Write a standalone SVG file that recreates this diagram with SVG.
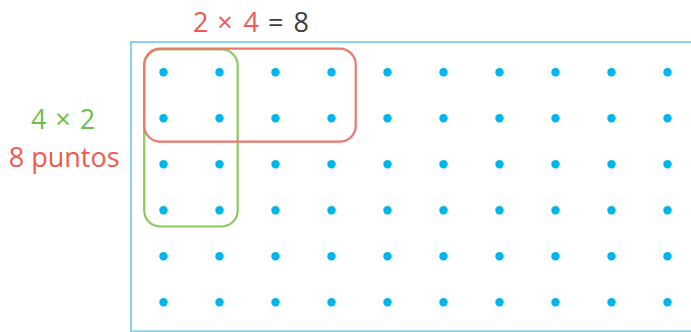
<svg xmlns="http://www.w3.org/2000/svg" width="691" height="332" viewBox="0 0 691 332">
<defs>
<style>
.t{font-family:"Open Sans","Liberation Sans",sans-serif;font-size:27px;text-anchor:middle}
.red{fill:#f05a4a}
.green{fill:#6abf4b}
.gray{fill:#3d3d3d}
.dot{fill:#00b4ef}
</style>
<circle id="d" r="4.2" class="dot"/>
<g id="row">
<use href="#d" x="163.5"/><use href="#d" x="219.5"/><use href="#d" x="275.5"/><use href="#d" x="331.5"/><use href="#d" x="387.5"/>
<use href="#d" x="443.5"/><use href="#d" x="499.5"/><use href="#d" x="555.5"/><use href="#d" x="611.5"/><use href="#d" x="667.5"/>
</g>
</defs>
<rect width="691" height="332" fill="#fff"/>
<g id="frame">
<rect x="131" y="42" width="600" height="289.3" fill="none" stroke="#86d3f2" stroke-width="2"/>
</g>
<g id="dots">
<use href="#row" y="72.3"/>
<use href="#row" y="118.3"/>
<use href="#row" y="164.3"/>
<use href="#row" y="210.3"/>
<use href="#row" y="256.3"/>
<use href="#row" y="302.3"/>
</g>
<g id="group-green">
<rect x="144.2" y="49.5" width="93.5" height="177" rx="16" fill="none" stroke="#8cc85e" stroke-width="2.2"/>
</g>
<g id="group-red">
<rect x="144.2" y="48.7" width="211.5" height="93" rx="16" fill="none" stroke="#ee7770" stroke-width="2.2"/>
</g>
<g id="label-top">
<text class="t" y="32"><tspan class="red" x="200.8">2</tspan><tspan class="red" x="225">×</tspan><tspan class="red" x="251.2">4</tspan><tspan class="gray" x="275.8">=</tspan><tspan class="gray" x="301.3">8</tspan></text>
</g>
<g id="label-left">
<text class="t green" y="128.5"><tspan x="38.8">4</tspan><tspan x="63">×</tspan><tspan x="87.5">2</tspan></text>
<text class="t red" x="64.2" y="166.5">8 puntos</text>
</g>
</svg>
